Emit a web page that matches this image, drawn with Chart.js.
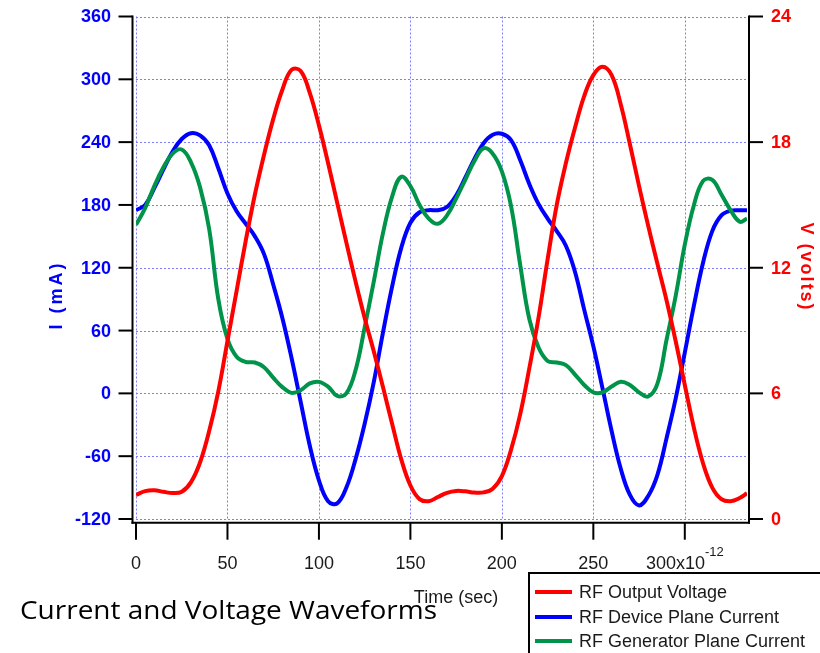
<!DOCTYPE html>
<html>
<head>
<meta charset="utf-8">
<script src="https://cdn.jsdelivr.net/npm/chart.js@4.4.0/dist/chart.umd.min.js"></script>
<style>
  html, body { margin: 0; padding: 0; background: #fff; }
  #wrap { width: 820px; height: 653px; }
</style>
</head>
<body>
<div id="wrap"><canvas id="myChart" width="820" height="653"></canvas></div>
<script>
// time in ps (axis shows x10^-12 sec)
var times = [0, 5, 10, 15, 20, 25, 30, 35, 40, 45, 50, 55, 60, 65, 70, 75, 80, 85, 90, 95,
  100, 105, 110, 115, 120, 125, 130, 135, 140, 145, 150, 155, 160, 165, 170, 175, 180, 185, 190, 195,
  200, 205, 210, 215, 220, 225, 230, 235, 240, 245, 250, 255, 260, 265, 270, 275, 280, 285, 290, 295,
  300, 305, 310, 315, 320, 325, 330, 334];

// volts (right axis)
var outputVoltage = [1.15, 1.33, 1.37, 1.30, 1.24, 1.30, 1.75, 2.7, 4.2, 6.1, 8.5, 10.9, 13.3, 15.5, 17.4, 19.1, 20.5, 21.45, 21.4, 20.35,
  18.8, 17.0, 15.1, 13.2, 11.35, 9.6, 8.0, 6.3, 4.55, 2.85, 1.6, 0.95, 0.85, 1.05, 1.25, 1.34, 1.32, 1.26, 1.27, 1.45,
  2.05, 3.3, 5.0, 7.2, 9.6, 12.4, 15.0, 17.0, 18.7, 20.2, 21.2, 21.6, 21.2, 19.8, 17.9, 15.9, 14.0, 12.2, 10.45, 8.5,
  6.4, 4.35, 2.65, 1.5, 0.95, 0.85, 1.0, 1.23];

// mA (left axis)
var devicePlaneCurrent = [175, 180, 196, 214, 231, 243, 248.5, 246.5, 237, 215, 191, 174, 162, 150, 133, 104, 72, 34, -8, -50,
  -83, -103, -105, -90, -63, -29, 11, 58, 102, 139, 163, 173, 175, 175, 178, 189, 206, 224, 239, 247,
  248, 242, 223, 200, 181, 167, 155, 141, 116, 80, 45, 5, -36, -72, -97, -107, -98, -78, -43, -5,
  39, 84, 125, 155, 170, 174.5, 175, 175];

var generatorPlaneCurrent = [161, 177, 198, 216, 229, 233, 221, 197, 157, 90, 52, 35, 30, 29.5, 25, 15, 6, 0.5, 3, 9.5,
  11, 6.5, -2.5, 0, 22, 63, 107, 153, 188, 207, 198, 180, 167, 162, 170, 186, 204, 222, 234, 229,
  212, 179, 123, 71, 44, 31, 29.5, 27, 18, 8, 1, 1, 6.5, 11, 8, 1, -3, 9, 51, 93,
  142, 180, 203, 204, 190, 175, 164, 167];

var seriesLabels = ['RF Output Voltage', 'RF Device Plane Current', 'RF Generator Plane Current'];
var seriesColors = ['#ff0000', '#0000ff', '#00944a'];
var chartTitle = 'Current and Voltage Waveforms';
var xTitle = 'Time (sec)';
var leftTitle = 'I (mA)';
var rightTitle = 'V (volts)';

function points(values) {
  return times.map(function(t, i) { return { x: t, y: values[i] }; });
}

function line(ctx, x1, y1, x2, y2) {
  ctx.beginPath();
  ctx.moveTo(x1, y1);
  ctx.lineTo(x2, y2);
  ctx.stroke();
}

const framePlugin = {
  id: 'frame',
  beforeDatasetsDraw(chart) {
    const { ctx, chartArea: a, scales } = chart;
    ctx.save();
    ctx.strokeStyle = '#7d7dff';
    ctx.lineWidth = 1;
    ctx.setLineDash([2, 2]);
    scales.x.ticks.forEach(function(t) {
      var px = Math.round(scales.x.getPixelForValue(t.value)) + 0.5;
      line(ctx, px, a.top, px, a.bottom);
    });
    scales.y.ticks.forEach(function(t) {
      var py = Math.round(scales.y.getPixelForValue(t.value)) + 0.5;
      line(ctx, a.left, py, a.right, py);
    });
    ctx.restore();
  },
  afterDraw(chart) {
    const { ctx, chartArea: a, scales } = chart;
    const axL = a.left - 3.5, axR = a.right + 2, axB = a.bottom + 3.7;
    ctx.save();
    // axis lines
    ctx.strokeStyle = '#000';
    ctx.lineWidth = 2;
    line(ctx, axL, a.top - 1, axL, axB + 1);
    line(ctx, axR, a.top - 1, axR, axB + 1);
    line(ctx, axL - 1, axB, axR + 1, axB);
    // y ticks and labels
    ctx.font = 'bold 18px "Liberation Sans", Arial, sans-serif';
    ctx.textBaseline = 'middle';
    ctx.fillStyle = '#0000ff';
    ctx.textAlign = 'right';
    scales.y.ticks.forEach(function(t) {
      var py = scales.y.getPixelForValue(t.value);
      line(ctx, axL - 14, py, axL, py);
      ctx.fillText(String(t.value), 111, py + 1);
    });
    ctx.fillStyle = '#ff0000';
    ctx.textAlign = 'left';
    scales.y2.ticks.forEach(function(t) {
      var py = scales.y2.getPixelForValue(t.value);
      line(ctx, axR, py, axR + 14, py);
      ctx.fillText(String(t.value), 771, py + 1);
    });
    // x ticks and labels
    ctx.fillStyle = '#1a1a1a';
    ctx.textBaseline = 'alphabetic';
    scales.x.ticks.forEach(function(t) {
      var px = scales.x.getPixelForValue(t.value);
      line(ctx, px, axB, px, axB + 17);
      ctx.font = '18px "Liberation Sans", Arial, sans-serif';
      if (t.value === 300) {
        var main = '300x10', sup = '-12';
        var w1 = ctx.measureText(main).width;
        ctx.font = '13px "Liberation Sans", Arial, sans-serif';
        var w2 = ctx.measureText(sup).width;
        var x0 = px - (w1 + w2) / 2;
        ctx.textAlign = 'left';
        ctx.font = '18px "Liberation Sans", Arial, sans-serif';
        ctx.fillText(main, x0, 569);
        ctx.font = '13px "Liberation Sans", Arial, sans-serif';
        ctx.fillText(sup, x0 + w1, 556);
      } else {
        ctx.textAlign = 'center';
        ctx.fillText(String(t.value), px, 569);
      }
    });

    // caption
    ctx.fillStyle = '#000';
    ctx.textAlign = 'left';
    ctx.font = '26px "Open Sans", sans-serif';
    var cw = ctx.measureText(chartTitle).width;
    ctx.save();
    ctx.translate(20, 619);
    ctx.scale(417 / cw, 1);
    ctx.fillText(chartTitle, 0, 0);
    ctx.restore();

    // x title
    ctx.fillStyle = '#1a1a1a';
    ctx.font = '18px "Liberation Sans", Arial, sans-serif';
    ctx.textAlign = 'center';
    ctx.fillText(xTitle, 456, 603);

    // y titles
    ctx.textBaseline = 'middle';
    ctx.font = 'bold 18px "Liberation Sans", Arial, sans-serif';
    ctx.save();
    ctx.fillStyle = '#0000ff';
    ctx.letterSpacing = '3px';
    ctx.translate(57, 295);
    ctx.rotate(-Math.PI / 2);
    ctx.fillText(leftTitle, 0, 0);
    ctx.restore();
    ctx.save();
    ctx.fillStyle = '#ff0000';
    ctx.letterSpacing = '2px';
    ctx.translate(806, 267);
    ctx.rotate(Math.PI / 2);
    ctx.fillText(rightTitle, 0, 0);
    ctx.restore();

    // legend box
    ctx.strokeStyle = '#000';
    ctx.lineWidth = 2;
    ctx.strokeRect(529, 573, 400, 200);
    var rows = [592, 617, 641];
    ctx.font = '18px "Liberation Sans", Arial, sans-serif';
    ctx.textAlign = 'left';
    ctx.textBaseline = 'middle';
    ctx.fillStyle = '#1a1a1a';
    seriesLabels.forEach(function(lbl, i) {
      ctx.strokeStyle = seriesColors[i];
      ctx.lineWidth = 4;
      line(ctx, 535, rows[i], 572, rows[i]);
      ctx.fillText(lbl, 579, rows[i] + 1);
    });
    ctx.restore();
  }
};

const ctx = document.getElementById('myChart').getContext('2d');
new Chart(ctx, {
  type: 'line',
  data: {
    datasets: [
      { label: seriesLabels[0], data: points(outputVoltage), yAxisID: 'y2', borderColor: seriesColors[0] },
      { label: seriesLabels[2], data: points(generatorPlaneCurrent), yAxisID: 'y', borderColor: seriesColors[2] },
      { label: seriesLabels[1], data: points(devicePlaneCurrent), yAxisID: 'y', borderColor: seriesColors[1] }
    ]
  },
  options: {
    responsive: false,
    animation: false,
    layout: { padding: { top: 16.5, left: 0, right: 0, bottom: 0 } },
    elements: {
      point: { radius: 0 },
      line: { borderWidth: 4, tension: 0.4, fill: false, capBezierPoints: true }
    },
    plugins: {
      legend: { display: false },
      tooltip: { enabled: false }
    },
    scales: {
      x: {
        type: 'linear',
        min: 0,
        max: 334,
        ticks: { stepSize: 50, includeBounds: false, display: false },
        grid: { display: false },
        border: { display: false },
        afterFit: function(scale) { scale.height = 134; }
      },
      y: {
        position: 'left',
        min: -120,
        max: 360,
        ticks: { stepSize: 60, display: false },
        grid: { display: false, drawTicks: false },
        border: { display: false },
        afterFit: function(scale) { scale.width = 136; }
      },
      y2: {
        position: 'right',
        min: 0,
        max: 24,
        ticks: { stepSize: 6, display: false },
        grid: { display: false, drawTicks: false },
        border: { display: false },
        afterFit: function(scale) { scale.width = 73; }
      }
    }
  },
  plugins: [framePlugin]
});
</script>
</body>
</html>
